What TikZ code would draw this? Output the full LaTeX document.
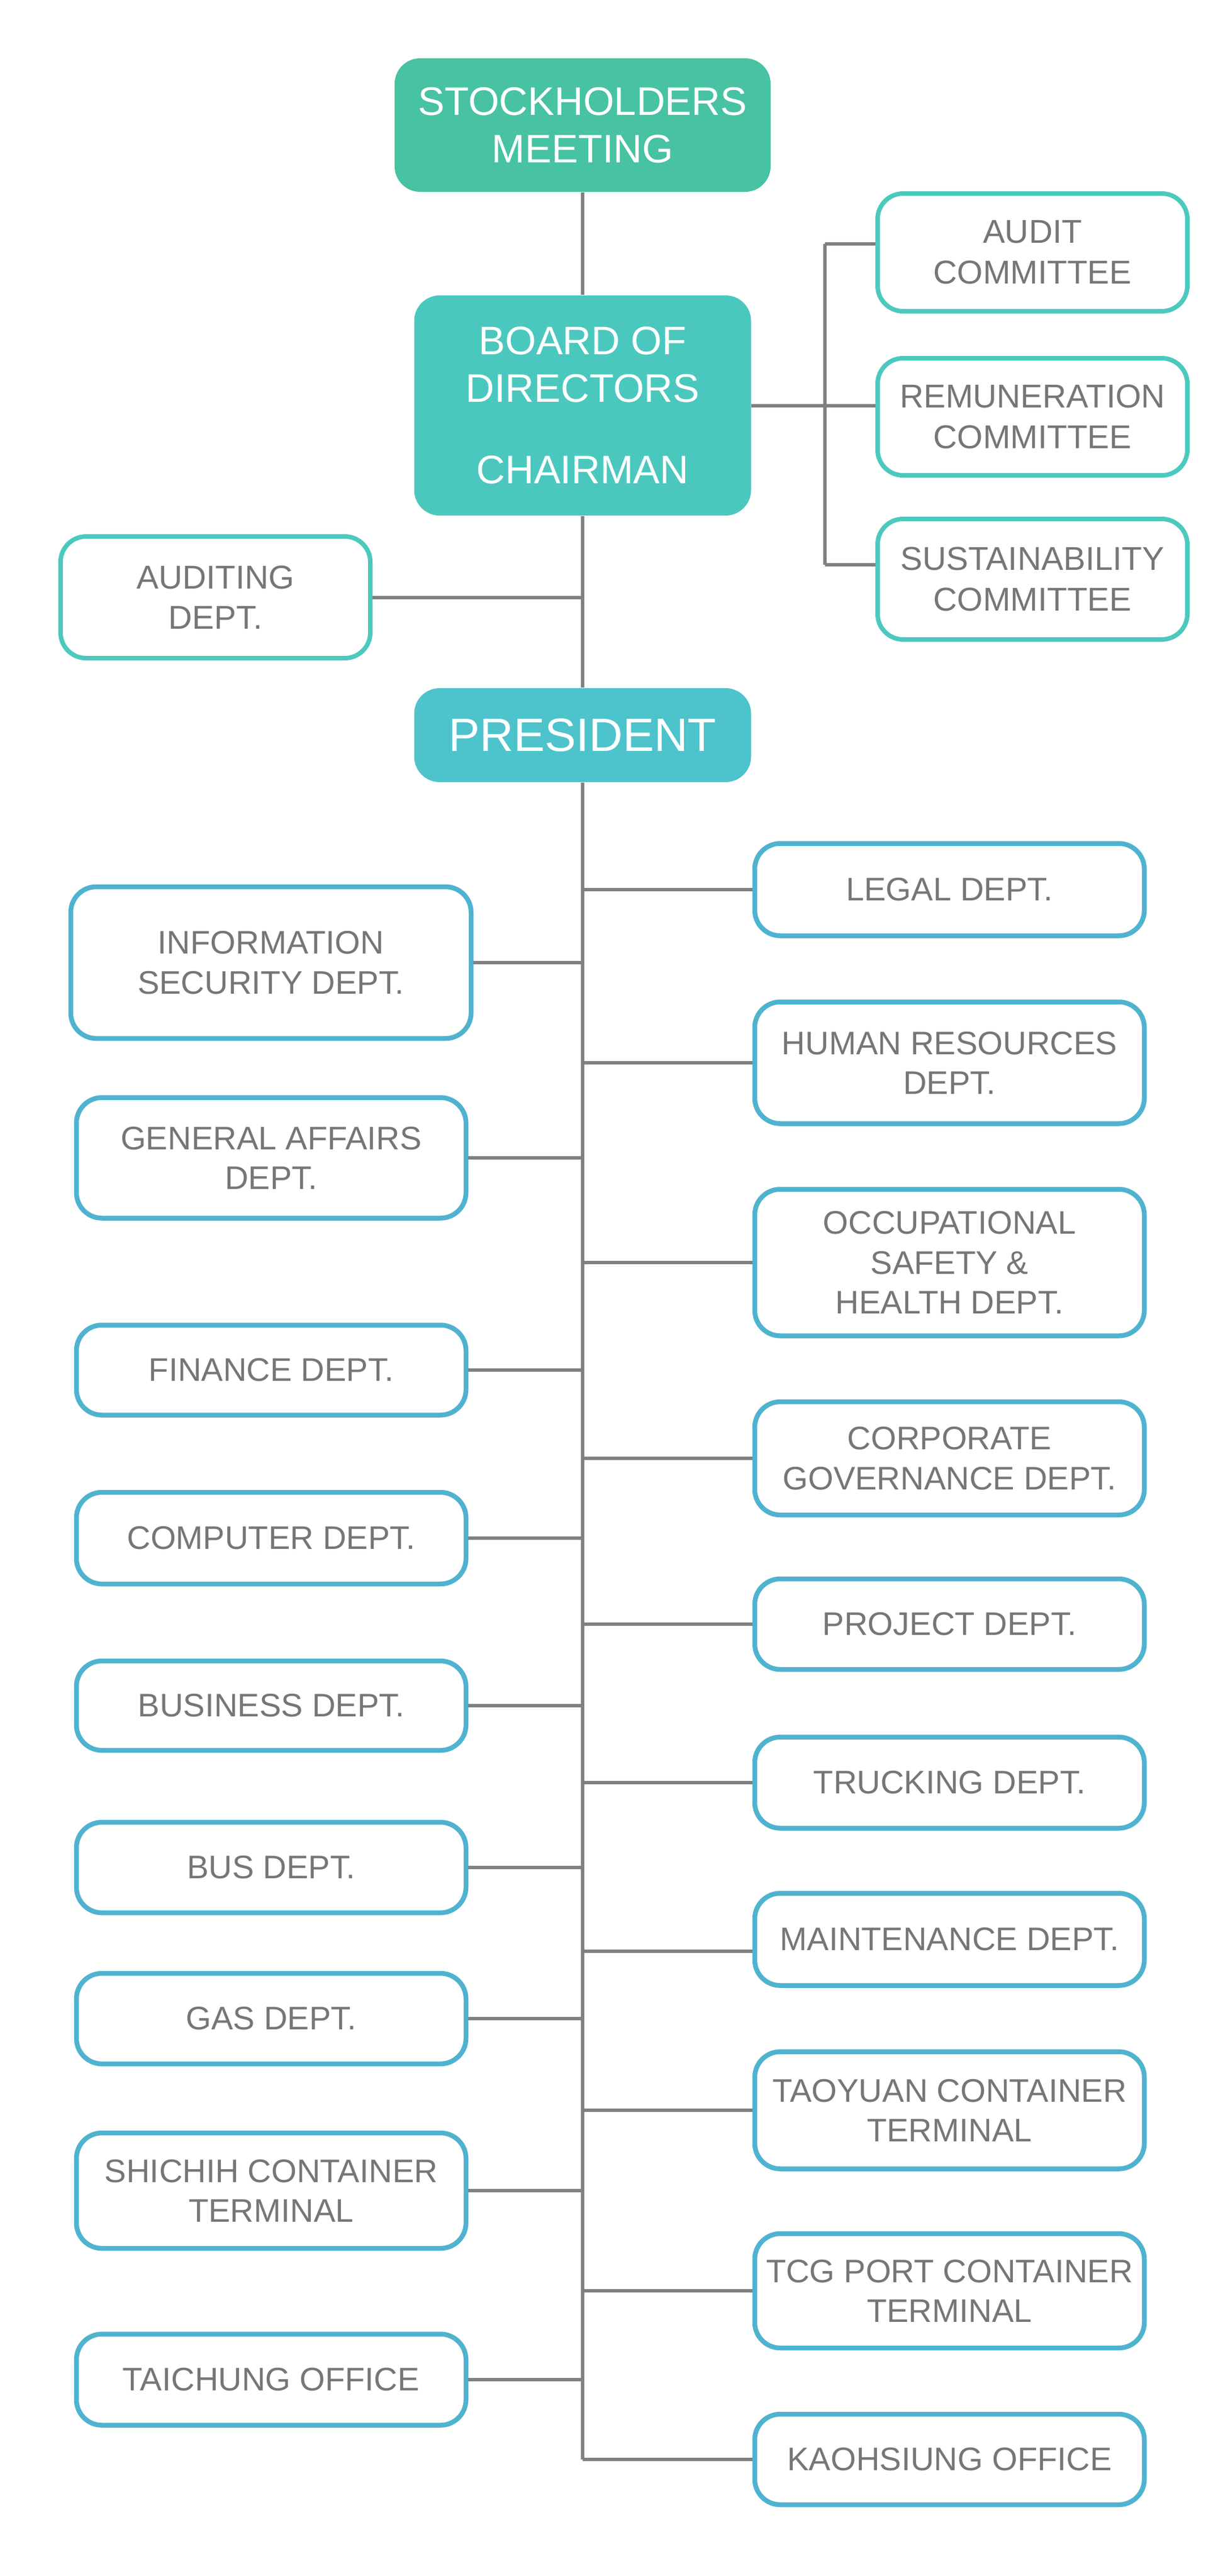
\documentclass[tikz,border=0pt]{standalone}
\usepackage{fontspec}
\setmainfont{Liberation Sans}
\usepackage{xcolor}
\definecolor{stockgreen}{HTML}{47C2A3}
\definecolor{boardteal}{HTML}{4BC8BE}
\definecolor{presteal}{HTML}{4DC3CB}
\definecolor{deptblue}{HTML}{4FB3D0}
\definecolor{cmteal}{HTML}{4CC9BE}
\definecolor{textgray}{HTML}{767676}
\definecolor{linegray}{HTML}{808080}

\tikzset{
	topbox/.style={rounded corners=0.45cm, align=center, text=white, inner sep=0pt,
		font=\fontsize{20}{24}\selectfont},
	cmbox/.style={draw=cmteal, line width=0.08cm, fill=white, rounded corners=0.45cm,
		align=center, text=textgray, inner sep=0pt, minimum width=5.47cm,
		font=\fontsize{16.6}{20.4}\selectfont},
	deptbox/.style={draw=deptblue, line width=0.085cm, fill=white, rounded corners=0.45cm,
		align=center, text=textgray, inner sep=0pt, minimum width=6.88cm,
		font=\fontsize{16.4}{20}\selectfont},
	link/.style={draw=linegray, line width=0.06cm},
}

\begin{document}
\begin{tikzpicture}
		\useasboundingbox (0,0) rectangle (21.6,-45.52);
		% top of the chart
		\node[topbox, fill=stockgreen, minimum width=6.64cm, minimum height=2.36cm] (stock) at (10.29,-2.21) {STOCKHOLDERS\\MEETING};
		\node[topbox, fill=boardteal, minimum width=5.95cm, minimum height=3.89cm] (board) at (10.29,-7.165) {BOARD OF\\DIRECTORS\\[17pt]CHAIRMAN};
		\node[topbox, fill=presteal, minimum width=5.95cm, minimum height=1.66cm, font=\fontsize{23.5}{28}\selectfont] (pres) at (10.29,-12.99) {PRESIDENT};
		\coordinate (trunkend) at (10.29,-43.46);
		\coordinate (cmbus) at (14.57,-7.165);
		% committees and auditing
		\node[cmbox, minimum height=2.08cm] (audit) at (18.235,-4.46) {AUDIT\\COMMITTEE};
		\node[cmbox, minimum height=2.07cm] (remu) at (18.235,-7.365) {REMUNERATION\\COMMITTEE};
		\node[cmbox, minimum height=2.13cm] (sust) at (18.235,-10.235) {SUSTAINABILITY\\COMMITTEE};
		\node[cmbox, minimum height=2.15cm] (auditing) at (3.805,-10.555) {AUDITING\\DEPT.};
		% left departments
		\node[deptbox, minimum width=7.07cm, minimum height=2.68cm] (infosec) at (4.785,-17.01) {INFORMATION\\SECURITY DEPT.};
		\node[deptbox, minimum height=2.13cm] (general) at (4.79,-20.46) {GENERAL AFFAIRS\\DEPT.};
		\node[deptbox, minimum height=1.59cm] (finance) at (4.79,-24.21) {FINANCE DEPT.};
		\node[deptbox, minimum height=1.62cm] (computer) at (4.79,-27.18) {COMPUTER DEPT.};
		\node[deptbox, minimum height=1.58cm] (business) at (4.79,-30.14) {BUSINESS DEPT.};
		\node[deptbox, minimum height=1.60cm] (bus) at (4.79,-33.00) {BUS DEPT.};
		\node[deptbox, minimum height=1.60cm] (gas) at (4.79,-35.67) {GAS DEPT.};
		\node[deptbox, minimum height=2.04cm] (shichih) at (4.79,-38.71) {SHICHIH CONTAINER\\TERMINAL};
		\node[deptbox, minimum height=1.61cm] (taichung) at (4.79,-42.05) {TAICHUNG OFFICE};
		% right departments
		\node[deptbox, minimum height=1.63cm] (legal) at (16.77,-15.72) {LEGAL DEPT.};
		\node[deptbox, minimum height=2.15cm] (hr) at (16.77,-18.78) {HUMAN RESOURCES\\DEPT.};
		\node[deptbox, minimum height=2.59cm] (safety) at (16.77,-22.31) {OCCUPATIONAL\\SAFETY \&\\HEALTH DEPT.};
		\node[deptbox, minimum height=2.00cm] (corp) at (16.77,-25.77) {CORPORATE\\GOVERNANCE DEPT.};
		\node[deptbox, minimum height=1.60cm] (project) at (16.77,-28.70) {PROJECT DEPT.};
		\node[deptbox, minimum height=1.61cm] (trucking) at (16.77,-31.50) {TRUCKING DEPT.};
		\node[deptbox, minimum height=1.63cm] (maint) at (16.77,-34.27) {MAINTENANCE DEPT.};
		\node[deptbox, minimum height=2.07cm] (taoyuan) at (16.77,-37.29) {TAOYUAN CONTAINER\\TERMINAL};
		\node[deptbox, minimum height=2.02cm] (tcg) at (16.77,-40.48) {TCG PORT CONTAINER\\TERMINAL};
		\node[deptbox, minimum height=1.60cm] (kaohsiung) at (16.77,-43.46) {KAOHSIUNG OFFICE};
		% connectors
		\draw[link] (stock.south) -- (board.north);
		\draw[link] (board.south) -- (pres.north);
		\draw[link] (pres.south) -- (trunkend);
		\draw[link] (auditing.east) -- (auditing.east -| board.south);
		\draw[link] (board.east) -- (board.east -| remu.west);
		\draw[link] ([yshift=0.15cm]cmbus |- audit.west) -- ([yshift=0.26cm]cmbus |- sust.west);
		\draw[link] ([yshift=0.15cm]cmbus |- audit.west) -- ([yshift=0.15cm]audit.west);
		\draw[link] ([yshift=0.26cm]cmbus |- sust.west) -- ([yshift=0.26cm]sust.west);
		\foreach \d in {infosec,general,finance,computer,business,bus,gas,shichih,taichung}
			\draw[link] (\d.east) -- (\d.east -| trunkend);
		\foreach \d in {legal,hr,safety,corp,project,trucking,taoyuan,tcg,kaohsiung}
			\draw[link] (\d.west) -- (\d.west -| trunkend);
		\draw[link] ([yshift=-0.21cm]maint.west) -- ([yshift=-0.21cm]maint.west -| trunkend);
	\end{tikzpicture}
\end{document}
